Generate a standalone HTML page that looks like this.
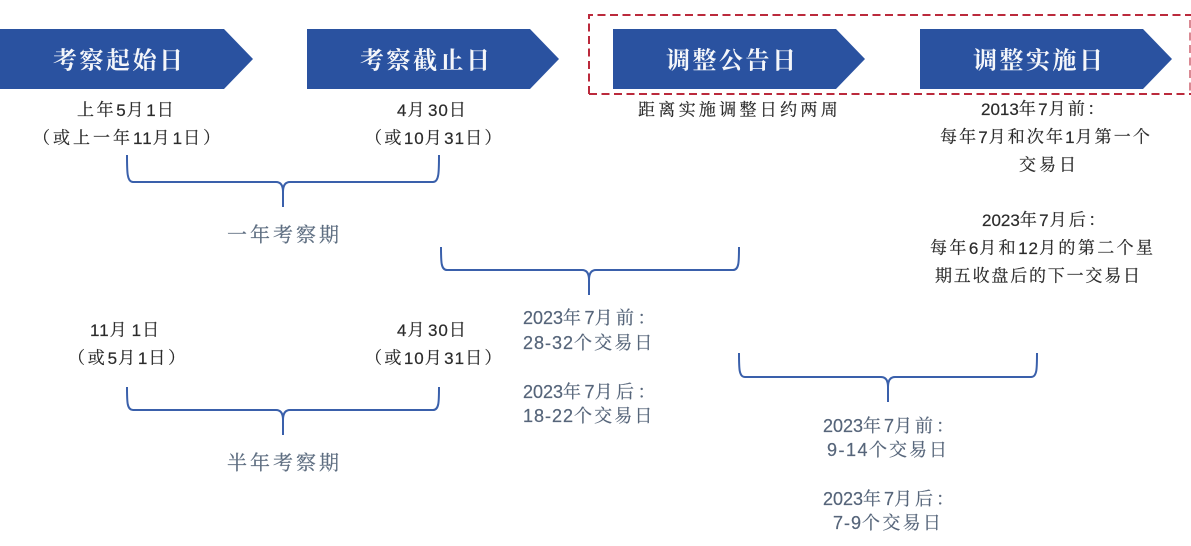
<!DOCTYPE html>
<html lang="zh">
<head>
<meta charset="utf-8">
<title>考察期与调整日</title>
<style>
html,body{margin:0;padding:0;background:#fff;width:1191px;height:546px;overflow:hidden}
svg{display:block}
text{font-family:"Liberation Sans","Noto Serif CJK SC",serif;dominant-baseline:central;filter:blur(.35px)}
.n{letter-spacing:1px}
.z{letter-spacing:0}
.h{font-family:"Noto Serif CJK SC","Liberation Serif",serif;font-size:24px;font-weight:700;fill:#f4f6fa;letter-spacing:2.5px}
.d{font-size:17px;fill:#2b2b2b;stroke:#2b2b2b;stroke-width:.2}
.g{font-size:18px;fill:#56657a;stroke:#56657a;stroke-width:.2}
.p{font-family:"Noto Serif CJK SC",serif;font-size:20px;fill:#5d6d80;letter-spacing:3px;stroke:#5d6d80;stroke-width:.2}
.b{fill:none;stroke:#3a60ab;stroke-width:2}
.r{fill:none;stroke:#bb2a3c;stroke-width:2;stroke-dasharray:8 4.5}
</style>
</head>
<body>
<svg width="1191" height="546" viewBox="0 0 1191 546" xmlns="http://www.w3.org/2000/svg">
<rect width="1191" height="546" fill="#fff"/>
<path class="r" d="M589 94 L589 15 L1191 15"/>
<path class="r" d="M589 94 L1191 94"/>
<path class="r" d="M1190 20 L1190 92" opacity=".55" stroke-width="1.4"/>
<g fill="#2a52a0">
<polygon points="0,29 224,29 253,59 224,89 0,89"/>
<polygon points="307,29 530,29 559,59 530,89 307,89"/>
<polygon points="613,29 836,29 865,59 836,89 613,89"/>
<polygon points="920,29 1143,29 1172,59 1143,89 920,89"/>
</g>
<text class="h" x="53" y="58">考察起始日</text>
<text class="h" x="360" y="58">考察截止日</text>
<text class="h" x="666" y="58">调整公告日</text>
<text class="h" x="973" y="58">调整实施日</text>

<path class="b" d="M127 155 C127 172 127 182 133 182 L276 182 C281 182 283 186 283 192 L283 207 M283 192 C283 186 285 182 290 182 L433 182 C439 182 439 172 439 155"/>
<path class="b" d="M441 247 C441 262 441 270 447 270 L582 270 C587 270 589 274 589 280 L589 295 M589 280 C589 274 591 270 596 270 L733 270 C739 270 739 262 739 247"/>
<path class="b" d="M739 353 C739 369 739 377 745 377 L881 377 C886 377 888 381 888 387 L888 402 M888 387 C888 381 890 377 895 377 L1031 377 C1037 377 1037 369 1037 353"/>
<path class="b" d="M127 387 C127 402 127 410 133 410 L276 410 C281 410 283 414 283 420 L283 435 M283 420 C283 414 285 410 290 410 L433 410 C439 410 439 402 439 387"/>

<text class="d" x="77" y="110" letter-spacing="2.6">上年<tspan class="n">5</tspan>月<tspan class="n">1</tspan>日</text>
<text class="d" x="33" y="138" letter-spacing="3">（或上一年<tspan class="n">11</tspan>月<tspan class="n">1</tspan>日）</text>
<text class="d" x="397" y="110" letter-spacing="3.5"><tspan class="n">4</tspan>月<tspan class="n">30</tspan>日</text>
<text class="d" x="365" y="138" letter-spacing="2.4">（或<tspan class="n">10</tspan>月<tspan class="n">31</tspan>日）</text>
<text class="p" x="227" y="233">一年考察期</text>

<text class="d" x="638" y="110" letter-spacing="3.3">距离实施调整日约两周</text>
<text class="d" x="981" y="109" letter-spacing="2.3"><tspan class="z">2013</tspan>年<tspan class="n">7</tspan>月前：</text>
<text class="d" x="940" y="137" letter-spacing="2.1">每年<tspan class="n">7</tspan>月和次年<tspan class="n">1</tspan>月第一个</text>
<text class="d" x="1019" y="165" letter-spacing="3">交易日</text>
<text class="d" x="982" y="220" letter-spacing="2.3"><tspan class="z">2023</tspan>年<tspan class="n">7</tspan>月后：</text>
<text class="d" x="930" y="248" letter-spacing="2.4">每年<tspan class="n">6</tspan>月和<tspan class="n">12</tspan>月的第二个星</text>
<text class="d" x="935" y="276" letter-spacing="1.8">期五收盘后的下一交易日</text>

<text class="g" x="523" y="318" letter-spacing="3.5"><tspan class="z">2023</tspan>年<tspan class="z">7</tspan>月前：</text>
<text class="g" x="523" y="343" letter-spacing="2.1"><tspan letter-spacing="1">28-32</tspan>个交易日</text>
<text class="g" x="523" y="392" letter-spacing="3.5"><tspan class="z">2023</tspan>年<tspan class="z">7</tspan>月后：</text>
<text class="g" x="523" y="416" letter-spacing="2.1"><tspan letter-spacing="1">18-22</tspan>个交易日</text>

<text class="d" x="90" y="330" letter-spacing="5"><tspan class="n">11</tspan>月<tspan class="n">1</tspan>日</text>
<text class="d" x="68" y="358" letter-spacing="2.8">（或<tspan class="n">5</tspan>月<tspan class="n">1</tspan>日）</text>
<text class="d" x="397" y="330" letter-spacing="3.5"><tspan class="n">4</tspan>月<tspan class="n">30</tspan>日</text>
<text class="d" x="365" y="358" letter-spacing="2.4">（或<tspan class="n">10</tspan>月<tspan class="n">31</tspan>日）</text>
<text class="p" x="227" y="461">半年考察期</text>

<text class="g" x="823" y="426" letter-spacing="3"><tspan class="z">2023</tspan>年<tspan class="z">7</tspan>月前：</text>
<text class="g" x="827" y="450" letter-spacing="2"><tspan letter-spacing="1.5">9-14</tspan>个交易日</text>
<text class="g" x="823" y="499" letter-spacing="3"><tspan class="z">2023</tspan>年<tspan class="z">7</tspan>月后：</text>
<text class="g" x="833" y="523" letter-spacing="2.3"><tspan letter-spacing="1">7-9</tspan>个交易日</text>
</svg>
</body>
</html>
